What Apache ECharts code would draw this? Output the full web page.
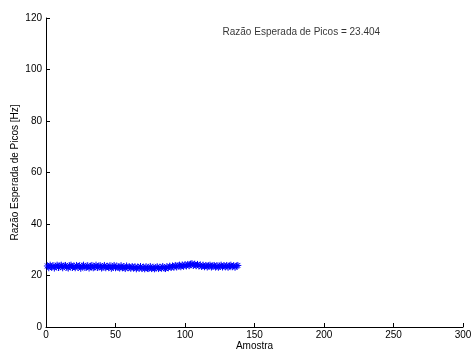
<!DOCTYPE html>
<html>
<head>
<meta charset="utf-8">
<script src="https://cdn.jsdelivr.net/npm/echarts@6/dist/echarts.min.js"></script>
<style>
html,body{margin:0;padding:0;background:#fff;}
#c{width:472px;height:354px;}
</style>
</head>
<body>
<div id="c"></div>
<script>
var xLabel = 'Amostra';
var yLabel = 'Razão Esperada de Picos [Hz]';
var annotationText = 'Razão Esperada de Picos = 23.404';
var annotationPos = [127, 114.5];
var xTicks = [0, 50, 100, 150, 200, 250, 300];
var yTicks = [0, 20, 40, 60, 80, 100, 120];
var values = [
23.7,23.0,24.0,23.3,23.8,22.9,23.6,24.0,23.1,23.7,
24.0,23.0,23.6,23.9,23.2,22.9,23.8,24.0,23.1,23.6,
23.0,23.9,23.3,23.8,22.8,23.6,24.0,23.1,23.3,23.8,
22.9,23.6,23.9,23.0,23.3,24.0,23.1,23.6,23.8,22.9,
23.3,23.9,23.0,23.6,23.2,23.8,22.8,23.3,23.9,23.0,
23.6,23.2,22.9,23.8,23.0,23.4,22.7,23.7,23.0,23.3,
22.8,23.5,22.9,23.4,22.6,23.3,22.8,23.5,22.7,23.2,
22.6,23.4,22.8,22.7,23.5,22.7,23.2,22.6,23.0,23.4,
22.7,23.2,22.8,23.5,22.9,22.7,23.4,23.0,23.6,23.1,
23.7,23.2,23.9,23.3,23.8,24.0,23.4,24.1,23.6,24.2,
23.7,24.3,23.8,24.4,24.6,23.9,24.4,23.8,24.3,23.7,
24.1,23.5,24.0,23.4,23.9,23.3,23.8,24.0,23.3,23.7,
23.9,23.3,23.8,23.2,23.7,24.0,23.3,23.8,23.4,23.9,
23.2,23.7,24.0,23.4,23.8,23.2,23.7,23.9
];
var samples = values.map(function(v, i){ return [i + 1, v]; });

var chart = echarts.init(document.getElementById('c'), null, {renderer: 'canvas'});
var font = 'Liberation Sans, Arial, Helvetica, sans-serif';
var star = 'path://M0,-5L0,5M-5,0L5,0M-3.6,-3.6L3.6,3.6M-3.6,3.6L3.6,-3.6';
chart.setOption({
  animation: false,
  backgroundColor: '#ffffff',
  grid: {left: 46, right: 9, top: 18, bottom: 27, containLabel: false, outerBoundsMode: 'none'},
  xAxis: {
    type: 'value', min: xTicks[0], max: xTicks[xTicks.length - 1], interval: 50,
    name: xLabel, nameLocation: 'middle', nameGap: 14, nameMoveOverlap: false,
    nameTextStyle: {color: '#000', fontFamily: font, fontSize: 10},
    axisLine: {show: true, lineStyle: {color: '#000', width: 1}},
    axisTick: {show: true, inside: true, length: 4, lineStyle: {color: '#000'}},
    axisLabel: {color: '#000', fontFamily: font, fontSize: 10, margin: 3},
    splitLine: {show: false}
  },
  yAxis: {
    type: 'value', min: yTicks[0], max: yTicks[yTicks.length - 1], interval: 20,
    name: yLabel, nameLocation: 'middle', nameGap: 26, nameRotate: 90, nameMoveOverlap: false,
    nameTextStyle: {color: '#000', fontFamily: font, fontSize: 10},
    axisLine: {show: true, lineStyle: {color: '#000', width: 1}},
    axisTick: {show: true, inside: true, length: 4, lineStyle: {color: '#000'}},
    axisLabel: {color: '#000', fontFamily: font, fontSize: 10, margin: 4},
    splitLine: {show: false}
  },
  series: [{
    type: 'line',
    data: samples,
    symbol: star,
    symbolSize: 7,
    showAllSymbol: true,
    lineStyle: {color: '#0000ff', width: 1},
    itemStyle: {color: 'rgba(0,0,0,0)', borderColor: '#0000ff', borderWidth: 1},
    emphasis: {disabled: true}
  }, {
    type: 'scatter',
    data: [annotationPos],
    symbolSize: 0,
    silent: true,
    label: {show: true, position: 'right', distance: 0, formatter: annotationText,
            color: '#000', fontFamily: font, fontSize: 10}
  }]
});
</script>
</body>
</html>
